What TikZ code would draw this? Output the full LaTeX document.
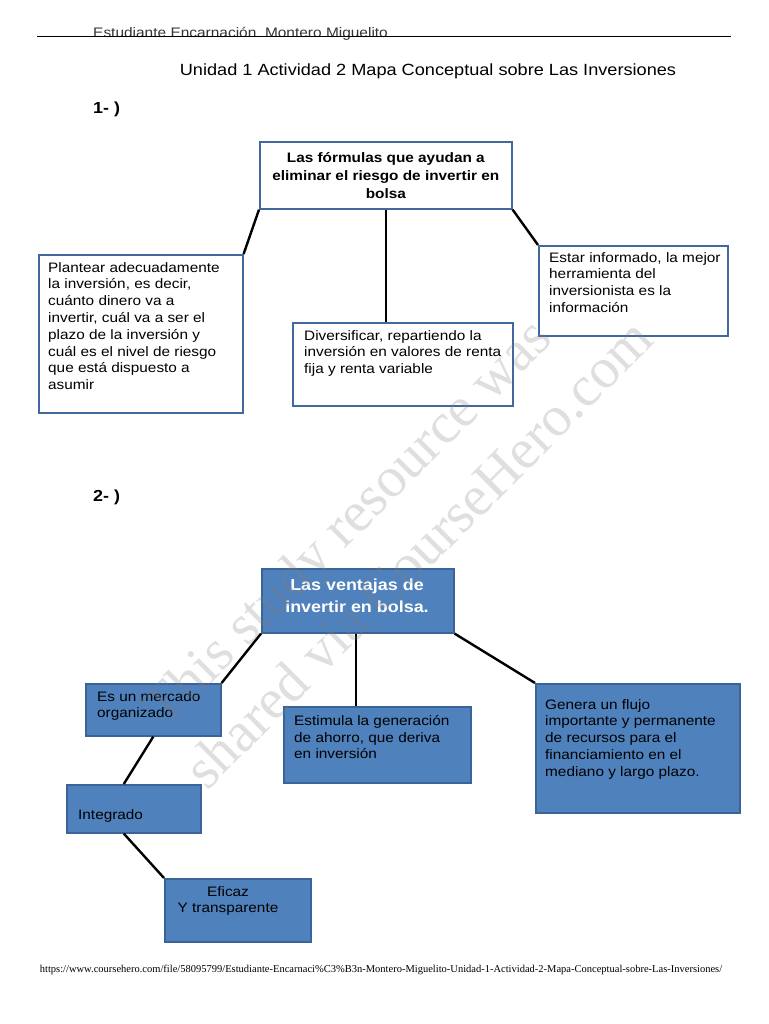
\documentclass[tikz,border=0pt]{standalone}
\usepackage{fontspec}
\setmainfont{Liberation Sans}[FakeStretch=1.12]
\newfontfamily\urlfont{Liberation Serif}
\newfontfamily\markfont{Liberation Serif}
\usetikzlibrary{positioning}

\definecolor{boxline}{HTML}{41699E}
\definecolor{bluefill}{HTML}{4F81BD}
\definecolor{blueline}{HTML}{3A6497}

\begin{document}
\begin{tikzpicture}[x=1pt, y=-1pt,
    whitebox/.style={draw=boxline, line width=1.6pt, fill=white, inner sep=0pt, anchor=north west},
    bluebox/.style={draw=blueline, line width=1.6pt, fill=bluefill, inner sep=0pt, anchor=north west},
    boxtext/.style={inner sep=0pt, anchor=north west, align=left, font=\fontsize{13.7}{16.8}\selectfont},
    link/.style={line width=2.4pt, black}]

    % Page size
    \useasboundingbox[fill=white] (0,0) rectangle (768,1024);

    % Header with the name and the line through it
    \node[anchor=west, inner sep=0pt, text=black!80, font=\fontsize{13.8}{16}\selectfont] (student) at (93,33.5) {Estudiante Encarnación\ \ Montero Miguelito};
    \draw[line width=0.9pt] (37,36) -- (731,36);

    % Title and section marks
    \node[font=\fontsize{16.2}{19}\selectfont, inner sep=0pt] (title) at (428,71) {Unidad 1 Actividad 2 Mapa Conceptual sobre Las Inversiones};
    \node[anchor=west, inner sep=0pt, font=\bfseries\fontsize{16}{19}\selectfont] (sec1) at (93,109) {1- )};
    \node[anchor=west, inner sep=0pt, font=\bfseries\fontsize{16}{19}\selectfont] (sec2) at (93,497) {2- )};

    % Map 1: the formulas
    \node[whitebox, minimum width=252pt, minimum height=67pt] (formulas) at (259,141) {};
    \node[align=center, inner sep=0pt, font=\bfseries\fontsize{13.7}{18}\selectfont] (formulas_text) at (formulas.center) {Las fórmulas que ayudan a\\eliminar el riesgo de invertir en\\bolsa};

    \node[whitebox, minimum width=204pt, minimum height=158pt] (plantear) at (38,254) {};
    \node[boxtext] (plantear_text) at (48,262) {Plantear adecuadamente\\la inversión, es decir,\\cuánto dinero va a\\invertir, cuál va a ser el\\plazo de la inversión y\\cuál es el nivel de riesgo\\que está dispuesto a\\asumir};

    \node[whitebox, minimum width=220pt, minimum height=83pt] (diversificar) at (292,322) {};
    \node[boxtext] (diversificar_text) at (304,330) {Diversificar, repartiendo la\\inversión en valores de renta\\fija y renta variable};

    \node[whitebox, minimum width=189pt, minimum height=90pt] (estar) at (538,245) {};
    \node[boxtext] (estar_text) at (549,252) {Estar informado, la mejor\\herramienta del\\inversionista es la\\información};

    \draw[link] (formulas.south west) -- (plantear.north east);
    \draw[link] (formulas.south) -- (diversificar.north -| formulas.south);
    \draw[link] (formulas.south east) -- (estar.north west);

    % Map 2: the advantages
    \node[bluebox, minimum width=192pt, minimum height=64pt] (ventajas) at (261,568) {};
    \node[align=center, inner sep=0pt, text=white, font=\bfseries\fontsize{16}{22.5}\selectfont] (ventajas_text) at (357,596) {Las ventajas de\\invertir en bolsa.};

    \node[bluebox, minimum width=135pt, minimum height=52pt] (mercado) at (85,683) {};
    \node[boxtext] (mercado_text) at (97,691) {Es un mercado\\organizado};

    \node[bluebox, minimum width=187pt, minimum height=76pt] (estimula) at (283,706) {};
    \node[boxtext] (estimula_text) at (294,715) {Estimula la generación\\de ahorro, que deriva\\en inversión};

    \node[bluebox, minimum width=204pt, minimum height=129pt] (genera) at (535,683) {};
    \node[boxtext] (genera_text) at (545,699) {Genera un flujo\\importante y permanente\\de recursos para el\\financiamiento en el\\mediano y largo plazo.};

    \node[bluebox, minimum width=134pt, minimum height=48pt] (integrado) at (66,784) {};
    \node[boxtext] (integrado_text) at (78,809) {Integrado};

    \node[bluebox, minimum width=146pt, minimum height=63pt] (eficaz) at (164,878) {};
    \node[boxtext, anchor=center, align=center] (eficaz_text) at (228,901) {Eficaz\\Y transparente};

    \draw[link] (ventajas.south west) -- (mercado.north east);
    \draw[link] ([xshift=-2pt]ventajas.south) -- ([xshift=-2pt]ventajas.south |- estimula.north);
    \draw[link] (ventajas.south east) -- (genera.north west);
    \draw[link] (mercado.south) -- ([xshift=-10pt]integrado.north);
    \draw[link] ([xshift=-10pt]integrado.south) -- (eficaz.north west);

    % Footer link
    \node[inner sep=0pt, font=\urlfont\fontsize{10.5}{12}\selectfont] (link_url) at (381,970) {https://www.coursehero.com/file/58095799/Estudiante-Encarnaci\%C3\%B3n-Montero-Miguelito-Unidad-1-Actividad-2-Mapa-Conceptual-sobre-Las-Inversiones/};

    % Watermark across the page
    \node[rotate=45, inner sep=0pt, text=gray, opacity=0.25, font=\markfont\fontsize{57}{60}\selectfont] (mark_one) at (350,525) {This study resource was};
    \node[rotate=45, inner sep=0pt, text=gray, opacity=0.25, font=\markfont\fontsize{57}{60}\selectfont] (mark_two) at (418,553) {shared via CourseHero.com};

\end{tikzpicture}
\end{document}
